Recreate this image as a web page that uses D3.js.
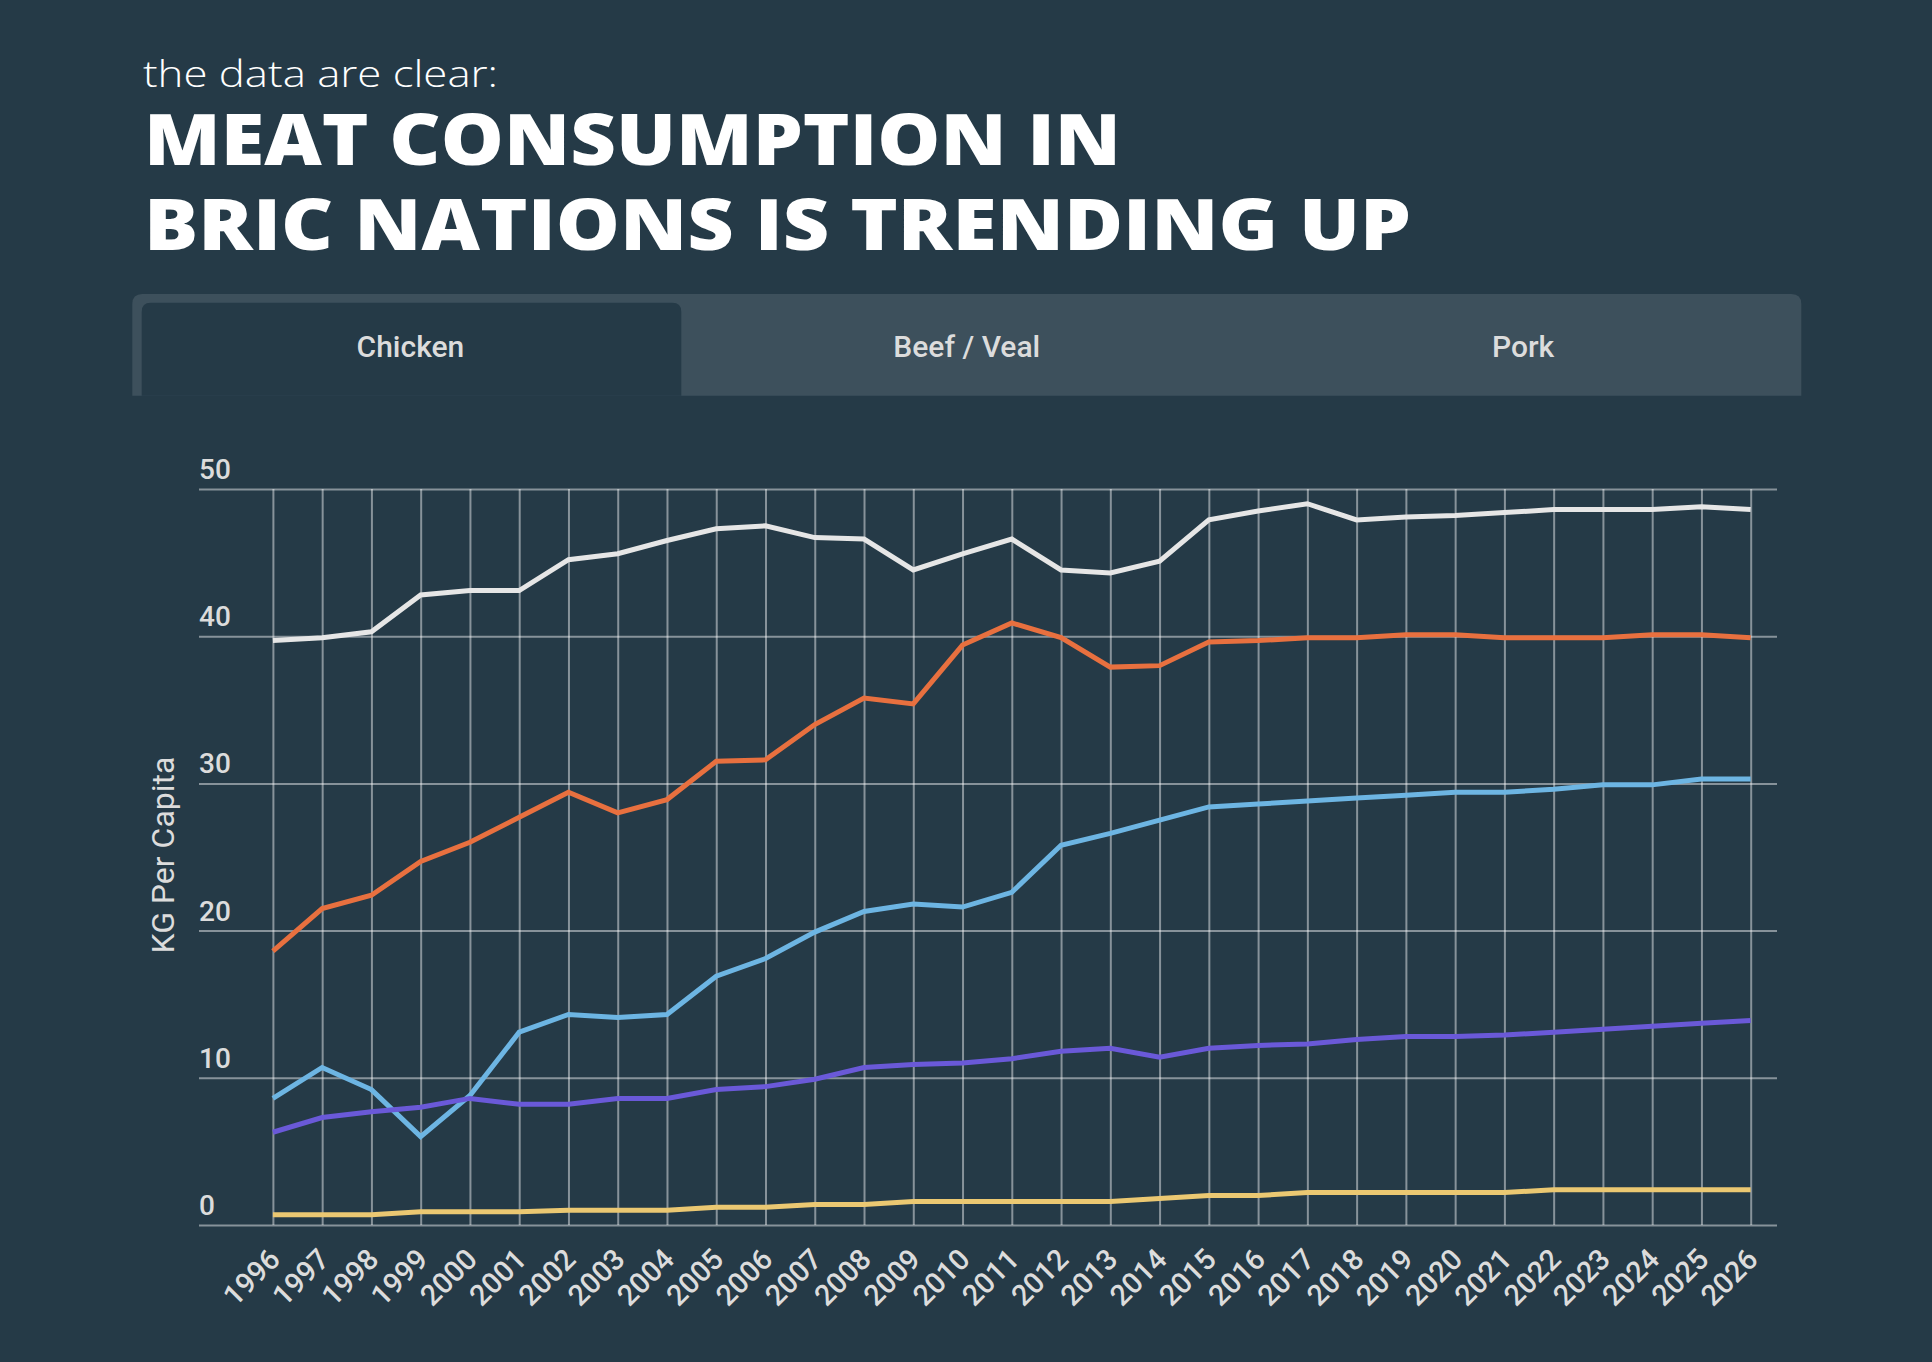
<!DOCTYPE html>
<html>
<head>
<meta charset="utf-8">
<script src="https://cdnjs.cloudflare.com/ajax/libs/d3/7.8.5/d3.min.js"></script>
<style>
  html, body { margin: 0; padding: 0; background: #253a47; }
  svg { display: block; }
</style>
</head>
<body>
<svg id="chart" width="1932" height="1362"></svg>
<script>
// ---- data ----
const years = [1996,1997,1998,1999,2000,2001,2002,2003,2004,2005,2006,2007,2008,2009,2010,2011,2012,2013,2014,2015,2016,2017,2018,2019,2020,2021,2022,2023,2024,2025,2026];
const yTicks = [0, 10, 20, 30, 40, 50];
const tabLabels = ["Chicken", "Beef / Veal", "Pork"];
const subtitle = "the data are clear:";
const titleLines = ["MEAT CONSUMPTION IN", "BRIC NATIONS IS TRENDING UP"];
const yAxisTitle = "KG Per Capita";

const seriesWhite  = [39.7,39.9,40.3,42.8,43.1,43.1,45.2,45.6,46.5,47.3,47.5,46.7,46.6,44.5,45.6,46.6,44.5,44.3,45.1,47.9,48.5,49.0,47.9,48.1,48.2,48.4,48.6,48.6,48.6,48.8,48.6];
const seriesOrange = [18.6,21.5,22.4,24.7,26.0,27.7,29.4,28.0,28.9,31.5,31.6,34.0,35.8,35.4,39.4,40.9,39.9,37.9,38.0,39.6,39.7,39.9,39.9,40.1,40.1,39.9,39.9,39.9,40.1,40.1,39.9];
const seriesBlue   = [8.6,10.7,9.2,6.0,8.8,13.1,14.3,14.1,14.3,16.9,18.1,19.9,21.3,21.8,21.6,22.6,25.8,26.6,27.5,28.4,28.6,28.8,29.0,29.2,29.4,29.4,29.6,29.9,29.9,30.3,30.3];
const seriesPurple = [6.3,7.3,7.7,8.0,8.6,8.2,8.2,8.6,8.6,9.2,9.4,9.9,10.7,10.9,11.0,11.3,11.8,12.0,11.4,12.0,12.2,12.3,12.6,12.8,12.8,12.9,13.1,13.3,13.5,13.7,13.9];
const seriesYellow = [0.7,0.7,0.7,0.9,0.9,0.9,1.0,1.0,1.0,1.2,1.2,1.4,1.4,1.6,1.6,1.6,1.6,1.6,1.8,2.0,2.0,2.2,2.2,2.2,2.2,2.2,2.4,2.4,2.4,2.4,2.4];

const series = [
  { values: seriesWhite,  color: "#e6e6e6" },
  { values: seriesOrange, color: "#e8703f" },
  { values: seriesBlue,   color: "#6db5e3" },
  { values: seriesPurple, color: "#6a59d8" },
  { values: seriesYellow, color: "#ebc872" }
];

// ---- layout ----
const svg = d3.select("#chart");
const BG = "#253a47";
const TAB_BG = "#3d505c";
const TXT = "#dcdcdc";

// Titles
svg.append("text")
  .attr("x", 143).attr("y", 86.5)
  .attr("fill", "#ffffff")
  .attr("font-family", "'Open Sans', 'Noto Sans', sans-serif")
  .attr("font-weight", 300)
  .attr("font-size", 36)
  .attr("textLength", 355)
  .attr("lengthAdjust", "spacingAndGlyphs")
  .text(subtitle);

const titleBaselines = [165, 249.5];
const titleWidths = [977, 1267];
titleLines.forEach((t, i) => {
  svg.append("text")
    .attr("x", 144).attr("y", titleBaselines[i])
    .attr("fill", "#ffffff")
    .attr("font-family", "'Open Sans', 'Noto Sans', sans-serif")
    .attr("font-weight", 800)
    .attr("font-size", 70)
    .attr("textLength", titleWidths[i])
    .attr("lengthAdjust", "spacingAndGlyphs")
    .text(t);
});

// Tabs
const tabX0 = 132.3, tabX1 = 1801.3, tabY0 = 294, tabY1 = 395.7;
const tabScale = d3.scaleBand().domain(tabLabels).range([tabX0, tabX1]);
const r = 10;
svg.append("path")
  .attr("d", `M${tabX0},${tabY1} V${tabY0 + r} Q${tabX0},${tabY0} ${tabX0 + r},${tabY0} H${tabX1 - r} Q${tabX1},${tabY0} ${tabX1},${tabY0 + r} V${tabY1} Z`)
  .attr("fill", TAB_BG);
// selected tab
const sx0 = 141.7, sx1 = 681.3, sy0 = 302.7, rr = 9;
svg.append("path")
  .attr("d", `M${sx0},${tabY1} V${sy0 + rr} Q${sx0},${sy0} ${sx0 + rr},${sy0} H${sx1 - rr} Q${sx1},${sy0} ${sx1},${sy0 + rr} V${tabY1} Z`)
  .attr("fill", BG);
svg.selectAll("text.tab").data(tabLabels).enter().append("text")
  .attr("class", "tab")
  .attr("x", d => tabScale(d) + tabScale.bandwidth() / 2)
  .attr("y", 356.5)
  .attr("text-anchor", "middle")
  .attr("fill", TXT)
  .attr("font-family", "Roboto, sans-serif")
  .attr("font-weight", 500)
  .attr("font-size", 30)
  .text(d => d);

// Scales
const x = d3.scalePoint().domain(years).range([272.9, 1750.7]);
const y = d3.scaleLinear().domain([0, 50]).range([1225, 489]);
const gridX0 = 199, gridX1 = 1777;

// Horizontal gridlines via axis
const yAxis = d3.axisLeft(y).tickValues(yTicks).tickSize(-(gridX1 - gridX0)).tickFormat("");
const gy = svg.append("g").attr("transform", `translate(${gridX0},0)`).call(yAxis);
gy.select(".domain").remove();
gy.selectAll(".tick line")
  .attr("x1", 0).attr("x2", gridX1 - gridX0)
  .attr("stroke", "rgba(255,255,255,0.45)").attr("stroke-width", 2);

// Vertical gridlines via axis
const xAxis = d3.axisBottom(x).tickSize(-(y(0) - y(50))).tickFormat("");
const gx = svg.append("g").attr("transform", `translate(0,${y(0)})`).call(xAxis);
gx.select(".domain").remove();
gx.selectAll(".tick line")
  .attr("stroke", "rgba(255,255,255,0.45)").attr("stroke-width", 2);

// Y tick labels
svg.selectAll("text.ylab").data(yTicks).enter().append("text")
  .attr("class", "ylab")
  .attr("x", 199)
  .attr("y", d => y(d) - 10)
  .attr("fill", TXT)
  .attr("font-family", "Roboto, sans-serif")
  .attr("font-weight", 500)
  .attr("font-size", 28)
  .text(d => d);

// X tick labels (rotated)
svg.selectAll("text.xlab").data(years).enter().append("text")
  .attr("class", "xlab")
  .attr("transform", d => `translate(${x(d) + 9},${y(0) + 36}) rotate(-45)`)
  .attr("text-anchor", "end")
  .attr("fill", TXT)
  .attr("font-family", "Roboto, sans-serif")
  .attr("font-weight", 500)
  .attr("font-size", 29)
  .text(d => d);

// Y axis title
svg.append("text")
  .attr("transform", `translate(174,855) rotate(-90)`)
  .attr("text-anchor", "middle")
  .attr("fill", TXT)
  .attr("font-family", "Roboto, sans-serif")
  .attr("font-size", 32)
  .text(yAxisTitle);

// Lines
const line = d3.line().x((d, i) => x(years[i])).y(d => y(d));
svg.selectAll("path.series").data(series).enter().append("path")
  .attr("class", "series")
  .attr("d", d => line(d.values))
  .attr("fill", "none")
  .attr("stroke", d => d.color)
  .attr("stroke-width", 5)
  .attr("stroke-linejoin", "miter");
</script>
</body>
</html>
